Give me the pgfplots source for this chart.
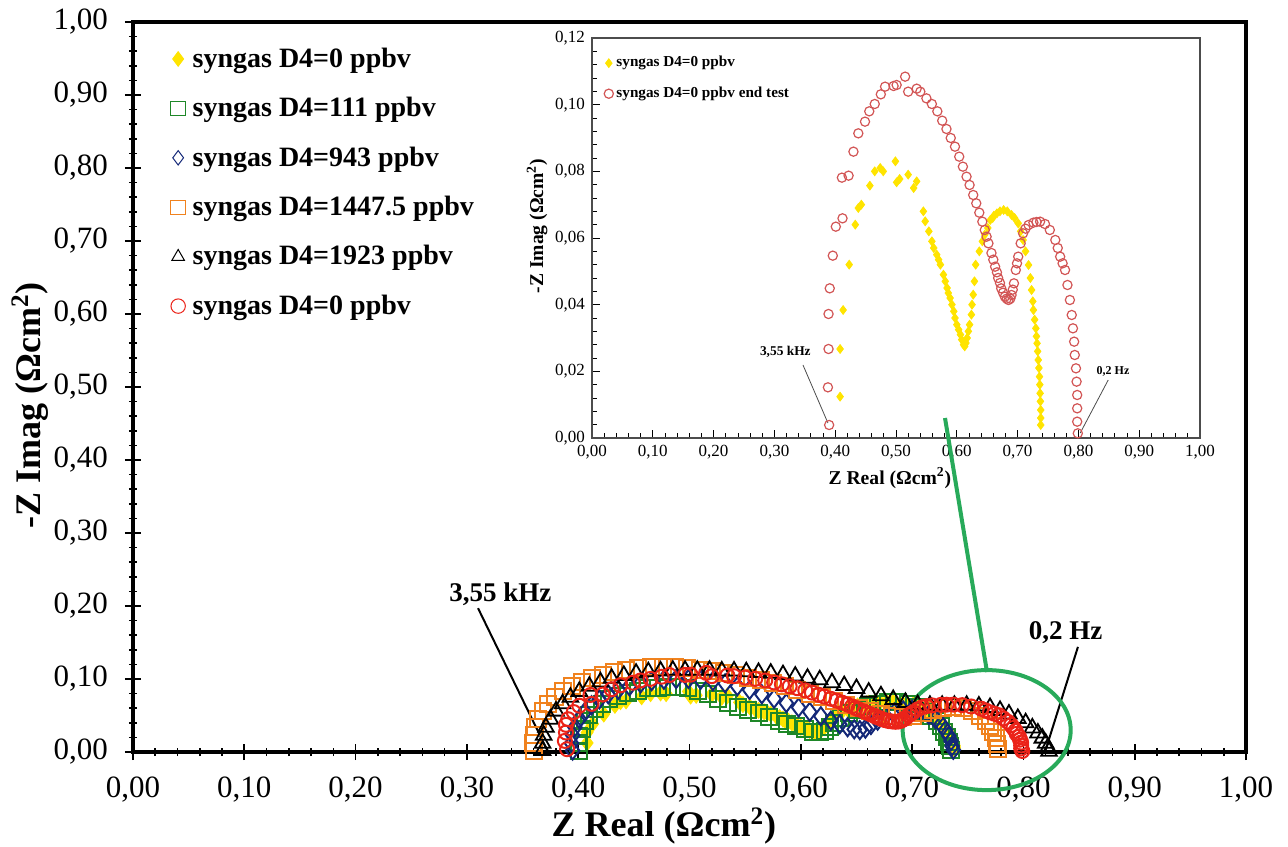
\documentclass[border=0pt]{standalone}
\usepackage{fontspec}
\setmainfont{Liberation Serif}
\usepackage{pgfplots}
\usepackage{pgfplotstable}
\pgfplotsset{compat=1.18}

\definecolor{cyel}{RGB}{255,228,0}
\definecolor{cgreen}{RGB}{30,135,40}
\definecolor{cblue}{RGB}{20,40,120}
\definecolor{corange}{RGB}{240,130,30}
\definecolor{cred}{RGB}{235,35,25}
\definecolor{cpink}{RGB}{210,85,85}
\definecolor{cellipse}{RGB}{40,170,90}

\pgfplotsset{
  numfmt/.style={
    /pgf/number format/fixed,
    /pgf/number format/fixed zerofill,
    /pgf/number format/precision=2,
    /pgf/number format/use comma,
    /pgf/number format/assume math mode=true}
}

\pgfplotstableread{
x y
0.408 0.0124
0.408 0.0267
0.413 0.0384
0.423 0.052
0.433 0.064
0.438 0.069
0.443 0.070
0.457 0.0757
0.465 0.080
0.474 0.081
0.479 0.080
0.499 0.083
0.501 0.0767
0.506 0.0777
0.520 0.079
0.529 0.075
0.534 0.077
0.545 0.068
0.548 0.065
0.554 0.062
0.559 0.059
0.562 0.057
0.567 0.055
0.570 0.0535
0.573 0.052
0.578 0.049
0.581 0.047
0.584 0.045
0.586 0.0435
0.589 0.042
0.592 0.040
0.595 0.038
0.597 0.036
0.600 0.034
0.603 0.0325
0.606 0.031
0.608 0.0295
0.611 0.028
0.613 0.0275
0.615 0.0285
0.617 0.030
0.619 0.032
0.621 0.034
0.624 0.037
0.625 0.040
0.627 0.043
0.629 0.047
0.631 0.052
0.637 0.056
0.642 0.059
0.646 0.061
0.651 0.063
0.655 0.0654
0.659 0.066
0.661 0.0667
0.666 0.0674
0.671 0.068
0.677 0.0684
0.683 0.068
0.690 0.0669
0.695 0.066
0.701 0.0644
0.705 0.062
0.709 0.0594
0.713 0.056
0.718 0.0519
0.721 0.048
0.723 0.0444
0.725 0.041
0.726 0.0384
0.728 0.0355
0.730 0.0329
0.731 0.0305
0.732 0.0284
0.733 0.026
0.734 0.0234
0.735 0.021
0.736 0.0184
0.7365 0.016
0.737 0.0134
0.7375 0.011
0.738 0.0084
0.738 0.006
0.738 0.0039
}\yellowdata

\pgfplotstableread{
x y
0.390 0.0039
0.388 0.0152
0.389 0.0267
0.389 0.0372
0.391 0.0449
0.396 0.0547
0.401 0.0634
0.412 0.0659
0.411 0.0781
0.422 0.0787
0.430 0.0859
0.438 0.0914
0.449 0.0949
0.456 0.098
0.465 0.1002
0.475 0.1031
0.482 0.1054
0.496 0.1056
0.501 0.1059
0.515 0.1084
0.520 0.1039
0.534 0.1048
0.540 0.1039
0.550 0.1019
0.559 0.1002
0.568 0.098
0.576 0.0952
0.583 0.0927
0.590 0.090
0.597 0.0874
0.604 0.0844
0.610 0.0814
0.616 0.0784
0.621 0.0759
0.627 0.0729
0.632 0.0704
0.637 0.0676
0.642 0.0649
0.646 0.0624
0.649 0.0604
0.652 0.0584
0.657 0.0555
0.660 0.0535
0.663 0.0514
0.666 0.0497
0.668 0.048
0.671 0.0465
0.673 0.0449
0.676 0.0436
0.679 0.0424
0.682 0.0418
0.685 0.0414
0.688 0.0418
0.690 0.0429
0.692 0.0445
0.694 0.0464
0.697 0.0504
0.699 0.0524
0.701 0.0544
0.705 0.0584
0.709 0.0614
0.713 0.0628
0.718 0.0639
0.726 0.0646
0.731 0.0648
0.737 0.0649
0.745 0.0642
0.753 0.0624
0.762 0.0594
0.766 0.0570
0.770 0.0544
0.774 0.0524
0.778 0.0504
0.782 0.0459
0.786 0.0414
0.789 0.0369
0.791 0.0329
0.793 0.0289
0.794 0.0249
0.796 0.0209
0.797 0.0169
0.798 0.0129
0.798 0.0089
0.798 0.0049
0.799 0.0014
}\reddata

\pgfplotstableread{
x y
0.401 0.002
0.400 0.012
0.401 0.022
0.403 0.032
0.406 0.042
0.410 0.051
0.415 0.059
0.421 0.066
0.428 0.072
0.436 0.077
0.445 0.081
0.454 0.084
0.463 0.087
0.472 0.088
0.481 0.089
0.490 0.089
0.499 0.087
0.508 0.084
0.517 0.079
0.526 0.073
0.535 0.067
0.544 0.062
0.553 0.058
0.562 0.053
0.571 0.048
0.580 0.043
0.588 0.039
0.596 0.035
0.604 0.031
0.611 0.028
0.617 0.027
0.622 0.029
0.626 0.034
0.630 0.040
0.636 0.047
0.643 0.053
0.651 0.058
0.660 0.063
0.669 0.066
0.678 0.068
0.687 0.068
0.696 0.066
0.704 0.062
0.711 0.056
0.717 0.049
0.722 0.042
0.726 0.035
0.729 0.028
0.731 0.021
0.733 0.014
0.734 0.008
0.735 0.003
}\greendata

\pgfplotstableread{
x y
0.395 0.002
0.394 0.012
0.395 0.023
0.397 0.034
0.401 0.045
0.406 0.055
0.412 0.064
0.419 0.072
0.427 0.079
0.436 0.085
0.446 0.090
0.456 0.094
0.466 0.097
0.477 0.099
0.488 0.100
0.499 0.100
0.510 0.099
0.521 0.097
0.532 0.094
0.543 0.090
0.554 0.085
0.565 0.079
0.576 0.073
0.587 0.067
0.598 0.061
0.608 0.055
0.618 0.049
0.627 0.043
0.635 0.038
0.642 0.034
0.648 0.031
0.653 0.030
0.658 0.032
0.663 0.037
0.669 0.043
0.676 0.049
0.684 0.054
0.692 0.057
0.700 0.058
0.708 0.056
0.715 0.051
0.721 0.045
0.726 0.038
0.730 0.030
0.733 0.022
0.735 0.015
0.736 0.008
0.737 0.003
}\bluedata

\pgfplotstableread{
x y
0.360 0.002
0.359 0.012
0.360 0.023
0.361 0.034
0.364 0.045
0.368 0.056
0.373 0.066
0.379 0.075
0.386 0.083
0.394 0.090
0.403 0.096
0.412 0.101
0.422 0.106
0.432 0.110
0.443 0.113
0.454 0.115
0.465 0.116
0.476 0.116
0.487 0.116
0.498 0.115
0.509 0.113
0.520 0.111
0.531 0.108
0.542 0.105
0.553 0.102
0.564 0.098
0.575 0.094
0.586 0.090
0.597 0.085
0.608 0.080
0.619 0.075
0.630 0.070
0.641 0.065
0.652 0.060
0.662 0.056
0.672 0.052
0.682 0.049
0.692 0.048
0.701 0.049
0.710 0.053
0.719 0.057
0.728 0.060
0.737 0.061
0.746 0.060
0.754 0.056
0.761 0.050
0.766 0.043
0.770 0.035
0.773 0.027
0.775 0.019
0.776 0.011
0.777 0.004
}\orangedata

\pgfplotstableread{
x y
0.368 0.002
0.368 0.012
0.369 0.023
0.371 0.034
0.375 0.045
0.380 0.056
0.386 0.066
0.393 0.075
0.401 0.083
0.410 0.090
0.420 0.096
0.430 0.101
0.441 0.105
0.452 0.108
0.463 0.110
0.474 0.111
0.485 0.112
0.496 0.112
0.507 0.112
0.518 0.112
0.529 0.111
0.540 0.111
0.551 0.110
0.562 0.109
0.573 0.108
0.584 0.106
0.595 0.104
0.606 0.101
0.617 0.099
0.628 0.095
0.639 0.091
0.650 0.087
0.661 0.082
0.672 0.077
0.683 0.072
0.694 0.068
0.705 0.065
0.716 0.064
0.727 0.064
0.738 0.064
0.749 0.064
0.760 0.063
0.770 0.061
0.779 0.057
0.787 0.052
0.795 0.046
0.802 0.040
0.808 0.033
0.813 0.026
0.817 0.019
0.820 0.012
0.822 0.006
0.823 0.001
}\blackdata

\begin{document}
\begin{tikzpicture}
\path[use as bounding box] (-66.5pt,-47pt) rectangle (577.5pt,376pt);

\begin{axis}[
  name=main,
  at={(0pt,0pt)}, anchor=south west,
  scale only axis,
  width=556.5pt, height=365pt,
  xmin=0, xmax=1, ymin=0, ymax=1,
  xtick={0,0.1,0.2,0.3,0.4,0.5,0.6,0.7,0.8,0.9,1},
  ytick={0,0.1,0.2,0.3,0.4,0.5,0.6,0.7,0.8,0.9,1},
  minor tick num=4,
  tick pos=left,
  tick align=center,
  major tick length=8pt,
  minor tick length=4pt,
  tick style={black, line width=0.8pt},
  axis line style={line width=1.6pt},
  scaled ticks=false,
  xticklabel style={numfmt, font=\fontsize{15.5}{18}\selectfont, inner sep=0pt, yshift=-8pt},
  yticklabel style={numfmt, font=\fontsize{15.5}{18}\selectfont, xshift=-5pt},
  xlabel={\bfseries Z Real (Ωcm\textsuperscript{2})},
  ylabel={\bfseries -Z Imag (Ωcm\textsuperscript{2})},
  label style={font=\bfseries\fontsize{18}{21}\selectfont, inner sep=0pt},
  xlabel style={at={(axis description cs:0.477,0)}, anchor=center, yshift=-37pt},
  ylabel style={at={(axis description cs:0,0.475)}, anchor=center, yshift=51.5pt},
  clip=false,
  legend cell align=left,
  legend style={draw=none, fill=none, at={(0.03,0.968)}, anchor=north west,
    font=\bfseries\fontsize{14}{16}\selectfont, row sep=11.5pt, inner sep=0pt,
    nodes={inner sep=1pt}},
  legend image code/.code={\path[draw=none, fill=none] (0cm,0cm) (0.42cm,0cm);\draw[#1, mark size=3.6pt, line width=0.5pt] plot coordinates {(0.2cm,0cm)};},
]
\addplot[only marks, mark=diamond*, mark size=4pt, color=cyel, fill=cyel] table {\yellowdata};
\addlegendentry{syngas D4=0 ppbv}
\addplot[only marks, mark=square, mark size=4pt, color=cgreen, line width=1pt] table {\greendata};
\addlegendentry{syngas D4=111 ppbv}
\addplot[only marks, mark=diamond, mark size=4.5pt, color=cblue, line width=1pt] table {\bluedata};
\addlegendentry{syngas D4=943 ppbv}
\addplot[only marks, mark=square, mark size=4pt, color=corange, line width=1pt] table {\orangedata};
\addlegendentry{syngas D4=1447.5 ppbv}
\addplot[only marks, mark=triangle, mark size=4.5pt, color=black, line width=0.9pt] table {\blackdata};
\addlegendentry{syngas D4=1923 ppbv}
\addplot[only marks, mark=o, mark size=3.5pt, color=cred, line width=1pt] table {\reddata};
\addlegendentry{syngas D4=0 ppbv}

\draw[black, line width=1pt] (axis cs:0.310,0.197) -- (axis cs:0.372,0.003);
\node[font=\bfseries\fontsize{13.5}{15}\selectfont] at (axis cs:0.330,0.216) {3,55 kHz};
\draw[black, line width=1pt] (axis cs:0.849,0.144) -- (axis cs:0.820,0.003);
\node[font=\bfseries\fontsize{13.5}{15}\selectfont] at (axis cs:0.838,0.163) {0,2 Hz};
\draw[cellipse, line width=2pt] (axis cs:0.767,0.030) ellipse [x radius=42pt, y radius=30pt];
\end{axis}

\begin{axis}[
  at={(229.5pt,157pt)}, anchor=south west,
  scale only axis,
  width=304pt, height=200pt,
  xmin=0, xmax=1, ymin=0, ymax=0.12,
  xtick={0,0.1,0.2,0.3,0.4,0.5,0.6,0.7,0.8,0.9,1},
  ytick={0,0.02,0.04,0.06,0.08,0.1,0.12},
  minor tick num=4,
  tick pos=left,
  tick align=inside,
  major tick length=4pt,
  minor tick length=2.5pt,
  tick style={black, line width=0.4pt},
  axis line style={line width=0.6pt, black!70},
  scaled ticks=false,
  xticklabel style={numfmt, font=\fontsize{8.5}{10}\selectfont},
  yticklabel style={numfmt, font=\fontsize{8.5}{10}\selectfont},
  xlabel={\bfseries Z Real (Ωcm\textsuperscript{2})},
  ylabel={\bfseries -Z Imag (Ωcm\textsuperscript{2})},
  label style={font=\bfseries\fontsize{9.8}{12}\selectfont},
  xlabel style={at={(axis description cs:0.49,0)}, anchor=center, yshift=-20pt},
  ylabel style={at={(axis description cs:0,0.53)}, anchor=center, yshift=27.5pt},
  clip=false,
  legend cell align=left,
  legend style={draw=none, fill=none, at={(0.012,0.96)}, anchor=north west,
    font=\bfseries\fontsize{7.6}{9}\selectfont, row sep=6.5pt, inner sep=0pt,
    nodes={inner sep=1pt}},
  legend image code/.code={\path[draw=none, fill=none] (0cm,0cm) (0.26cm,0cm);\draw[#1] plot coordinates {(0.16cm,0cm)};},
]
\addplot[only marks, mark=diamond*, mark size=2.2pt, color=cyel, fill=cyel] table {\yellowdata};
\addlegendentry{syngas D4=0 ppbv}
\addplot[only marks, mark=o, mark size=2.3pt, color=cpink, line width=0.6pt] table {\reddata};
\addlegendentry{syngas D4=0 ppbv end test}

\draw[black!70, line width=0.4pt] (axis cs:0.347,0.0219) -- (axis cs:0.388,0.0045);
\node[font=\bfseries\fontsize{6.7}{8}\selectfont] at (axis cs:0.318,0.0258) {3,55 kHz};
\draw[black!70, line width=0.4pt] (axis cs:0.849,0.0174) -- (axis cs:0.803,0.0015);
\node[font=\bfseries\fontsize{6}{7}\selectfont] at (axis cs:0.857,0.0199) {0,2 Hz};
\end{axis}

\draw[cellipse, line width=2pt] (406pt,167pt) -- (427pt,40pt);
\end{tikzpicture}
\end{document}
